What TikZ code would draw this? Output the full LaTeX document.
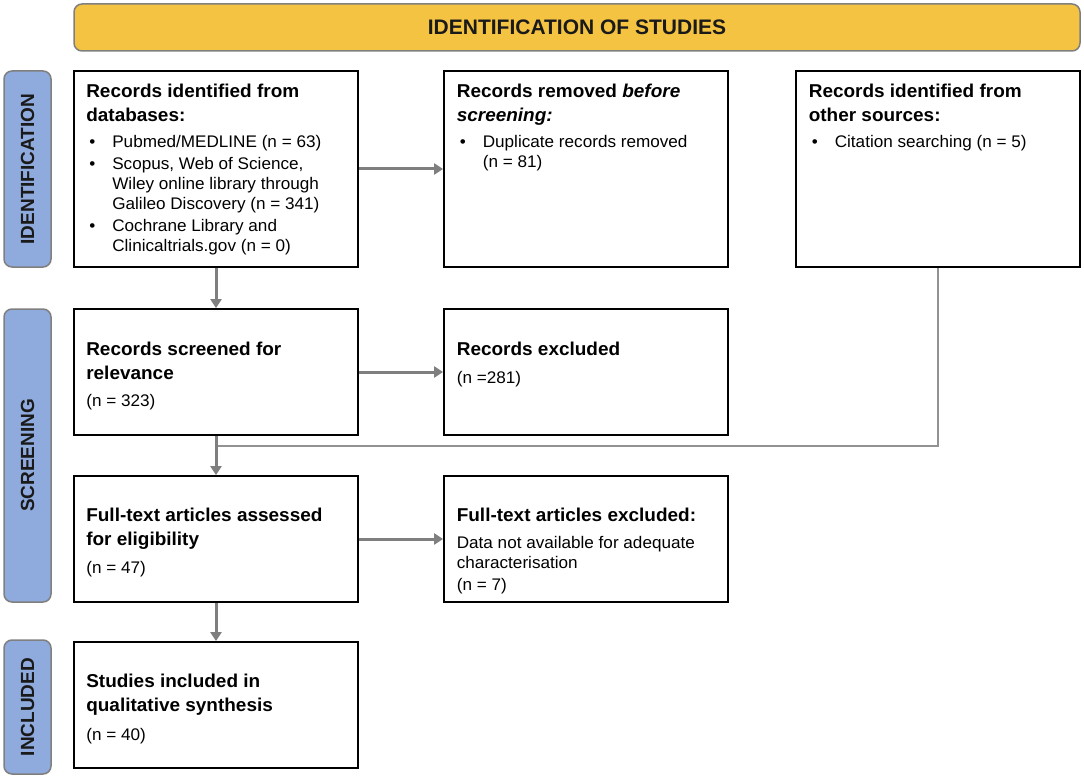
\documentclass[tikz,border=0pt]{standalone}
\usepackage{fontspec}
\setmainfont{Liberation Sans}
\newfontfamily\boxfont{Liberation Sans}[FakeStretch=1.02]
\usetikzlibrary{arrows.meta}
\definecolor{gold}{HTML}{F5C342}
\definecolor{sideblue}{HTML}{8FAADC}
\definecolor{edgegray}{HTML}{7F7F7F}
\definecolor{arrgray}{HTML}{7F7F7F}
\definecolor{inkdark}{HTML}{1A1A1A}
\newcommand{\ttl}{\boxfont\fontsize{18.6}{24}\selectfont\bfseries}
\newcommand{\bdy}{\boxfont\fontsize{16.8}{20}\selectfont\mdseries}
\newcommand{\nl}{\hfil\break}
\newcommand{\bitem}[1]{\par\vspace{2pt}\hangindent=26pt\hangafter=1\noindent\makebox[26pt][l]{\hspace{3pt}\textbullet}#1}
\newcommand{\btext}[1]{\parbox[t]{272pt}{\raggedright #1}}
\begin{document}
\begin{tikzpicture}[x=1pt,y=-1pt,
  headbar/.style={draw=edgegray,line width=1.5pt,fill=gold,rounded corners=8pt,minimum width=1006pt,minimum height=47pt,inner sep=0pt,text=inkdark,font=\fontsize{21}{25}\selectfont\bfseries},
  sidebar/.style={draw=edgegray,line width=1.5pt,fill=sideblue,rounded corners=8pt,minimum width=47pt,inner sep=0pt,text=inkdark,font=\fontsize{19}{22}\selectfont\bfseries},
  flowbox/.style={draw=black,line width=1.8pt,fill=white,minimum width=284pt,inner sep=0pt},
  boxtext/.style={anchor=base west,inner sep=0pt,text=black},
  arr/.style={draw=arrgray,line width=3pt,-{Triangle[width=11pt,length=9pt]}},
  thinline/.style={draw=arrgray!85,line width=1.5pt}]
\useasboundingbox (0,0) rectangle (1084,778);

% header
\node[headbar] (head) at (577,27.5) {IDENTIFICATION OF STUDIES};

% side labels
\node[sidebar,minimum height=196pt] (sideI) at (27.5,169) {\rotatebox{90}{IDENTIFICATION}};
\node[sidebar,minimum height=293pt] (sideS) at (27.5,455.5) {\rotatebox{90}{SCREENING}};
\node[sidebar,minimum height=134pt] (sideN) at (27.5,707) {\rotatebox{90}{INCLUDED}};

% boxes
\node[flowbox,minimum height=196pt] (A) at (216,169) {};
\node[flowbox,minimum height=196pt] (B) at (586,169) {};
\node[flowbox,minimum height=196pt] (C) at (938,169) {};
\node[flowbox,minimum height=126pt] (D) at (216,372) {};
\node[flowbox,minimum height=126pt] (E) at (586,372) {};
\node[flowbox,minimum height=126pt] (F) at (216,539) {};
\node[flowbox,minimum height=126pt] (G) at (586,539) {};
\node[flowbox,minimum height=126pt] (H) at (216,705) {};

% texts
\node[boxtext] (tA) at ([shift={(13,27)}]A.north west) {\btext{\ttl Records identified from\nl databases:\par\bdy\vspace{4.7pt}%
\bitem{Pubmed/MEDLINE (n = 63)}%
\bitem{Scopus, Web of Science,\nl Wiley online library through\nl Galileo Discovery (n = 341)}%
\bitem{Cochrane Library and\nl Clinicaltrials.gov (n = 0)}}};
\node[boxtext] (tB) at ([shift={(13.5,27)}]B.north west) {\btext{\ttl Records removed \textit{before}\nl\textit{screening:}\par\bdy\vspace{4.7pt}%
\bitem{Duplicate records removed\nl(n = 81)}}};
\node[boxtext] (tC) at ([shift={(13.5,27)}]C.north west) {\btext{\ttl Records identified from\nl other sources:\par\bdy\vspace{4.7pt}%
\bitem{Citation searching (n = 5)}}};
\node[boxtext] (tD) at ([shift={(13,47)}]D.north west) {\btext{\ttl Records screened for\nl relevance\par\bdy\vspace{7pt}(n = 323)}};
\node[boxtext] (tE) at ([shift={(13.5,47)}]E.north west) {\btext{\ttl Records excluded\par\bdy\vspace{8pt}(n =281)}};
\node[boxtext] (tF) at ([shift={(13,46)}]F.north west) {\btext{\ttl Full-text articles assessed\nl for eligibility\par\bdy\vspace{8pt}(n = 47)}};
\node[boxtext] (tG) at ([shift={(13.5,46)}]G.north west) {\btext{\ttl Full-text articles excluded:\par\bdy\vspace{7pt}Data not available for adequate\nl characterisation\par\vspace{2pt}(n = 7)}};
\node[boxtext] (tH) at ([shift={(13,46)}]H.north west) {\btext{\ttl Studies included in\nl qualitative synthesis\par\bdy\vspace{9pt}(n = 40)}};

% connectors
\coordinate (merge) at (D.south |- 0,446);
\draw[thinline] (C.south) |- (merge);
\draw[arr] (A) -- (B);
\draw[arr] (A) -- (D);
\draw[arr] (D) -- (E);
\draw[arr] (D) -- (F);
\draw[arr] (F) -- (G);
\draw[arr] (F) -- (H);
\end{tikzpicture}
\end{document}
